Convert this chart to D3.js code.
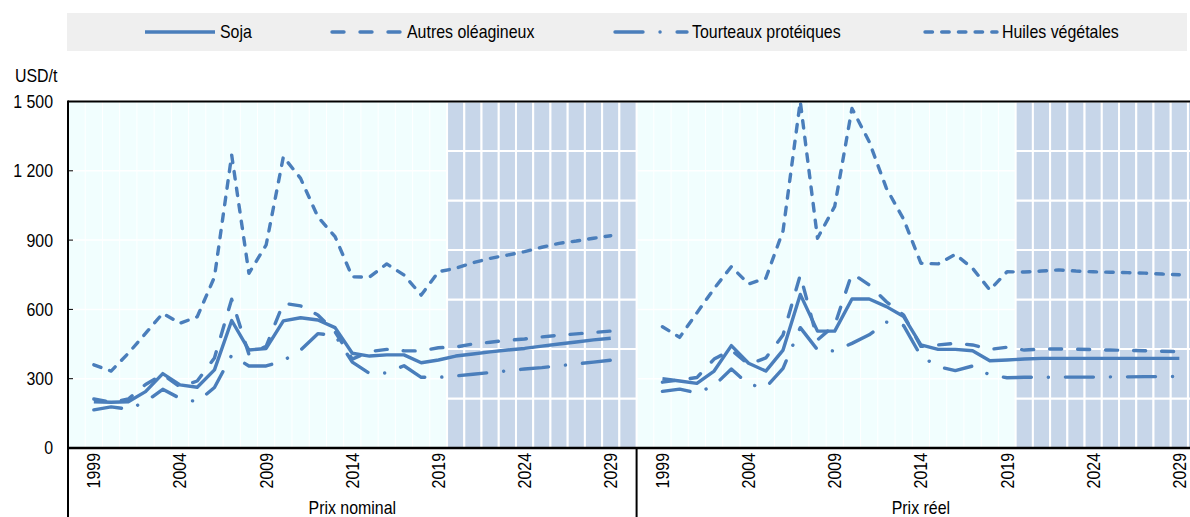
<!DOCTYPE html>
<html><head><meta charset="utf-8">
<script src="https://cdn.jsdelivr.net/npm/d3@7"></script>
<style>
html,body{margin:0;padding:0;background:#fff;}
svg text{font-family:"Liberation Sans",Arial,sans-serif;font-size:18.5px;fill:#000;}
</style></head>
<body><svg id="chart" width="1190" height="517"></svg>
<script>
const years = ["1999","2000","2001","2002","2003","2004","2005","2006","2007","2008","2009","2010","2011","2012","2013","2014","2015","2016","2017","2018","2019","2020","2021","2022","2023","2024","2025","2026","2027","2028","2029"];
const tickYears = ["1999","2004","2009","2014","2019","2024","2029"];
const projectionYears = ["2020","2021","2022","2023","2024","2025","2026","2027","2028","2029"];
const panels = [{id:"N", label:"Prix nominal"},{id:"R", label:"Prix réel"}];
const yTicks = [0,300,600,900,1200,1500];
const yTickLabels = ["0","300","600","900","1 200","1 500"];
const seriesNames = ["Soja","Autres oléagineux","Tourteaux protéiques","Huiles végétales"];

const sojaNominal     = [200,198,200,244,322,273,263,338,552,424,431,550,564,554,521,410,398,403,403,369,381,398,407,416,424,431,441,450,459,468,475];
const autresNominal   = [212,198,212,275,318,265,290,390,644,405,440,627,615,576,503,385,417,427,421,420,434,437,450,458,466,472,481,488,494,500,506];
const tourteauxNominal= [165,178,168,200,254,215,200,262,402,355,355,378,424,495,488,372,323,325,356,306,306,312,319,327,334,342,348,356,364,372,380];
const huilesNominal   = [360,333,410,496,583,540,568,740,1268,756,879,1261,1167,1001,915,741,740,797,749,662,763,778,802,821,835,850,869,886,896,908,919];

const sojaReel        = [300,290,280,333,443,367,333,424,665,506,506,645,645,612,569,446,427,427,421,378,381,385,388,388,388,388,388,388,388,388,388];
const autresReel      = [285,295,305,385,424,362,390,489,749,468,532,756,706,633,575,440,446,453,446,427,436,424,428,429,428,426,424,423,421,419,417];
const tourteauxReel   = [245,255,238,270,342,275,262,345,521,425,420,453,490,545,530,398,352,335,355,316,304,306,306,307,307,307,308,308,309,309,310];
const huilesReel      = [525,479,585,690,785,710,735,940,1500,908,1046,1470,1326,1124,990,800,797,838,778,684,763,762,766,771,766,763,761,759,757,753,750];

const seriesData = {
  N:[sojaNominal,autresNominal,tourteauxNominal,huilesNominal],
  R:[sojaReel,autresReel,tourteauxReel,huilesReel]
};

const lineColor = "#4a7ebb";
const dashes = [null, "12,16", "28,17,0.1,17", "7.5,9.2"];

const svg = d3.select("#chart");
const left = 68, catW = 17.23;
const keys = [];
panels.forEach(p => { keys.push(p.id+"|s"); years.forEach(y => keys.push(p.id+"|"+y)); keys.push(p.id+"|e"); });
const x = d3.scaleBand().domain(keys).range([left, left + keys.length*catW]).padding(0);
const y = d3.scaleLinear().domain([0,1500]).range([448,101.5]);
const xr = left + keys.length*catW;
const bw = x.bandwidth();

svg.append("rect").attr("x",left).attr("y",y(1500)).attr("width",xr-left).attr("height",y(0)-y(1500)).attr("fill","#f1fefe");
svg.append("g").selectAll("line").data(keys.slice(1)).join("line")
  .attr("x1",d=>x(d)).attr("x2",d=>x(d)).attr("y1",y(1500)).attr("y2",y(0))
  .attr("stroke","#fff").attr("stroke-width",1);
svg.append("g").selectAll("line").data(yTicks.slice(1,-1)).join("line")
  .attr("x1",left).attr("x2",xr).attr("y1",d=>y(d)).attr("y2",d=>y(d))
  .attr("stroke","#fff").attr("stroke-width",1.5);

const projKeys = [];
panels.forEach(p => { projectionYears.forEach(yy => projKeys.push(p.id+"|"+yy)); projKeys.push(p.id+"|e"); });
const nSeg = 7, segs = d3.range(nSeg);
const gShade = svg.append("g");
projKeys.forEach(k => {
  gShade.selectAll(null).data(segs).join("rect")
    .attr("x",x(k)).attr("width",bw)
    .attr("y",i=>y(1500*(i+1)/nSeg)).attr("height",i=>y(1500*i/nSeg)-y(1500*(i+1)/nSeg))
    .attr("fill","#c7d6e9").attr("stroke","#fff").attr("stroke-width",2);
});

const line = d3.line().x(d=>x(d.k)+bw/2).y(d=>y(d.v));
svg.append("clipPath").attr("id","pc").append("rect").attr("x",left).attr("y",y(1500)-2).attr("width",xr-left).attr("height",y(0)-y(1500)+2);
const gLines = svg.append("g").attr("clip-path","url(#pc)");
panels.forEach(p => {
  seriesData[p.id].forEach((vals,si) => {
    const pts = vals.map((v,i)=>({k:p.id+"|"+years[i], v}));
    gLines.append("path").datum(pts).attr("d",line)
      .attr("fill","none").attr("stroke",lineColor).attr("stroke-width",3.4)
      .attr("stroke-linejoin","round").attr("stroke-linecap", si===0?"butt":"round")
      .attr("stroke-dasharray",dashes[si]);
  });
});

const axisG = svg.append("g");
axisG.append("line").attr("x1",left).attr("x2",1190).attr("y1",y(1500)).attr("y2",y(1500)).attr("stroke","#000").attr("stroke-width",2);
axisG.append("line").attr("x1",left).attr("x2",1190).attr("y1",y(0)).attr("y2",y(0)).attr("stroke","#000").attr("stroke-width",2.5);
axisG.append("line").attr("x1",left).attr("x2",left).attr("y1",y(1500)-1).attr("y2",517).attr("stroke","#000").attr("stroke-width",2);
axisG.append("line").attr("x1",x("R|s")).attr("x2",x("R|s")).attr("y1",y(0)).attr("y2",517).attr("stroke","#000").attr("stroke-width",2);
axisG.selectAll(null).data(yTicks.slice(1,-1)).join("line")
  .attr("x1",left).attr("x2",left+5).attr("y1",d=>y(d)).attr("y2",d=>y(d)).attr("stroke","#000").attr("stroke-width",1);

svg.append("g").selectAll("text").data(yTicks).join("text")
  .attr("x",53).attr("y",d=>y(d)).attr("dy","0.35em").attr("text-anchor","end")
  .text((d,i)=>yTickLabels[i]);
svg.append("text").attr("x",15).attr("y",76).attr("dy","0.35em").text("USD/t");

panels.forEach(p => {
  svg.append("g").selectAll("text").data(tickYears).join("text")
    .attr("transform",d=>`translate(${x(p.id+"|"+d)+bw/2},453) rotate(-90)`)
    .attr("text-anchor","end").attr("dy","0.35em").text(d=>d);
  const x0 = x(p.id+"|s"), x1 = x(p.id+"|e")+bw;
  svg.append("text").attr("x",(x0+x1)/2).attr("y",514).attr("text-anchor","middle").text(p.label);
});

svg.append("rect").attr("x",67).attr("y",13).attr("width",1120).attr("height",38).attr("fill","#efefef");
const legendX = [145, 332, 615, 925];
const legendW = [70, 70, 72, 72];
seriesNames.forEach((n,i) => {
  svg.append("line").attr("x1",legendX[i]).attr("x2",legendX[i]+legendW[i]).attr("y1",32).attr("y2",32)
    .attr("stroke",lineColor).attr("stroke-width",3.4).attr("stroke-linecap", i===0?"butt":"round")
    .attr("stroke-dasharray",dashes[i]);
  svg.append("text").attr("x",legendX[i]+legendW[i]+5).attr("y",32).attr("dy","0.35em").text(n);
});

// condense glyphs horizontally (narrow typeface look)
svg.selectAll("text").each(function(){
  const w = this.getComputedTextLength();
  d3.select(this).attr("textLength", w*0.86).attr("lengthAdjust","spacingAndGlyphs");
});
</script></body></html>
